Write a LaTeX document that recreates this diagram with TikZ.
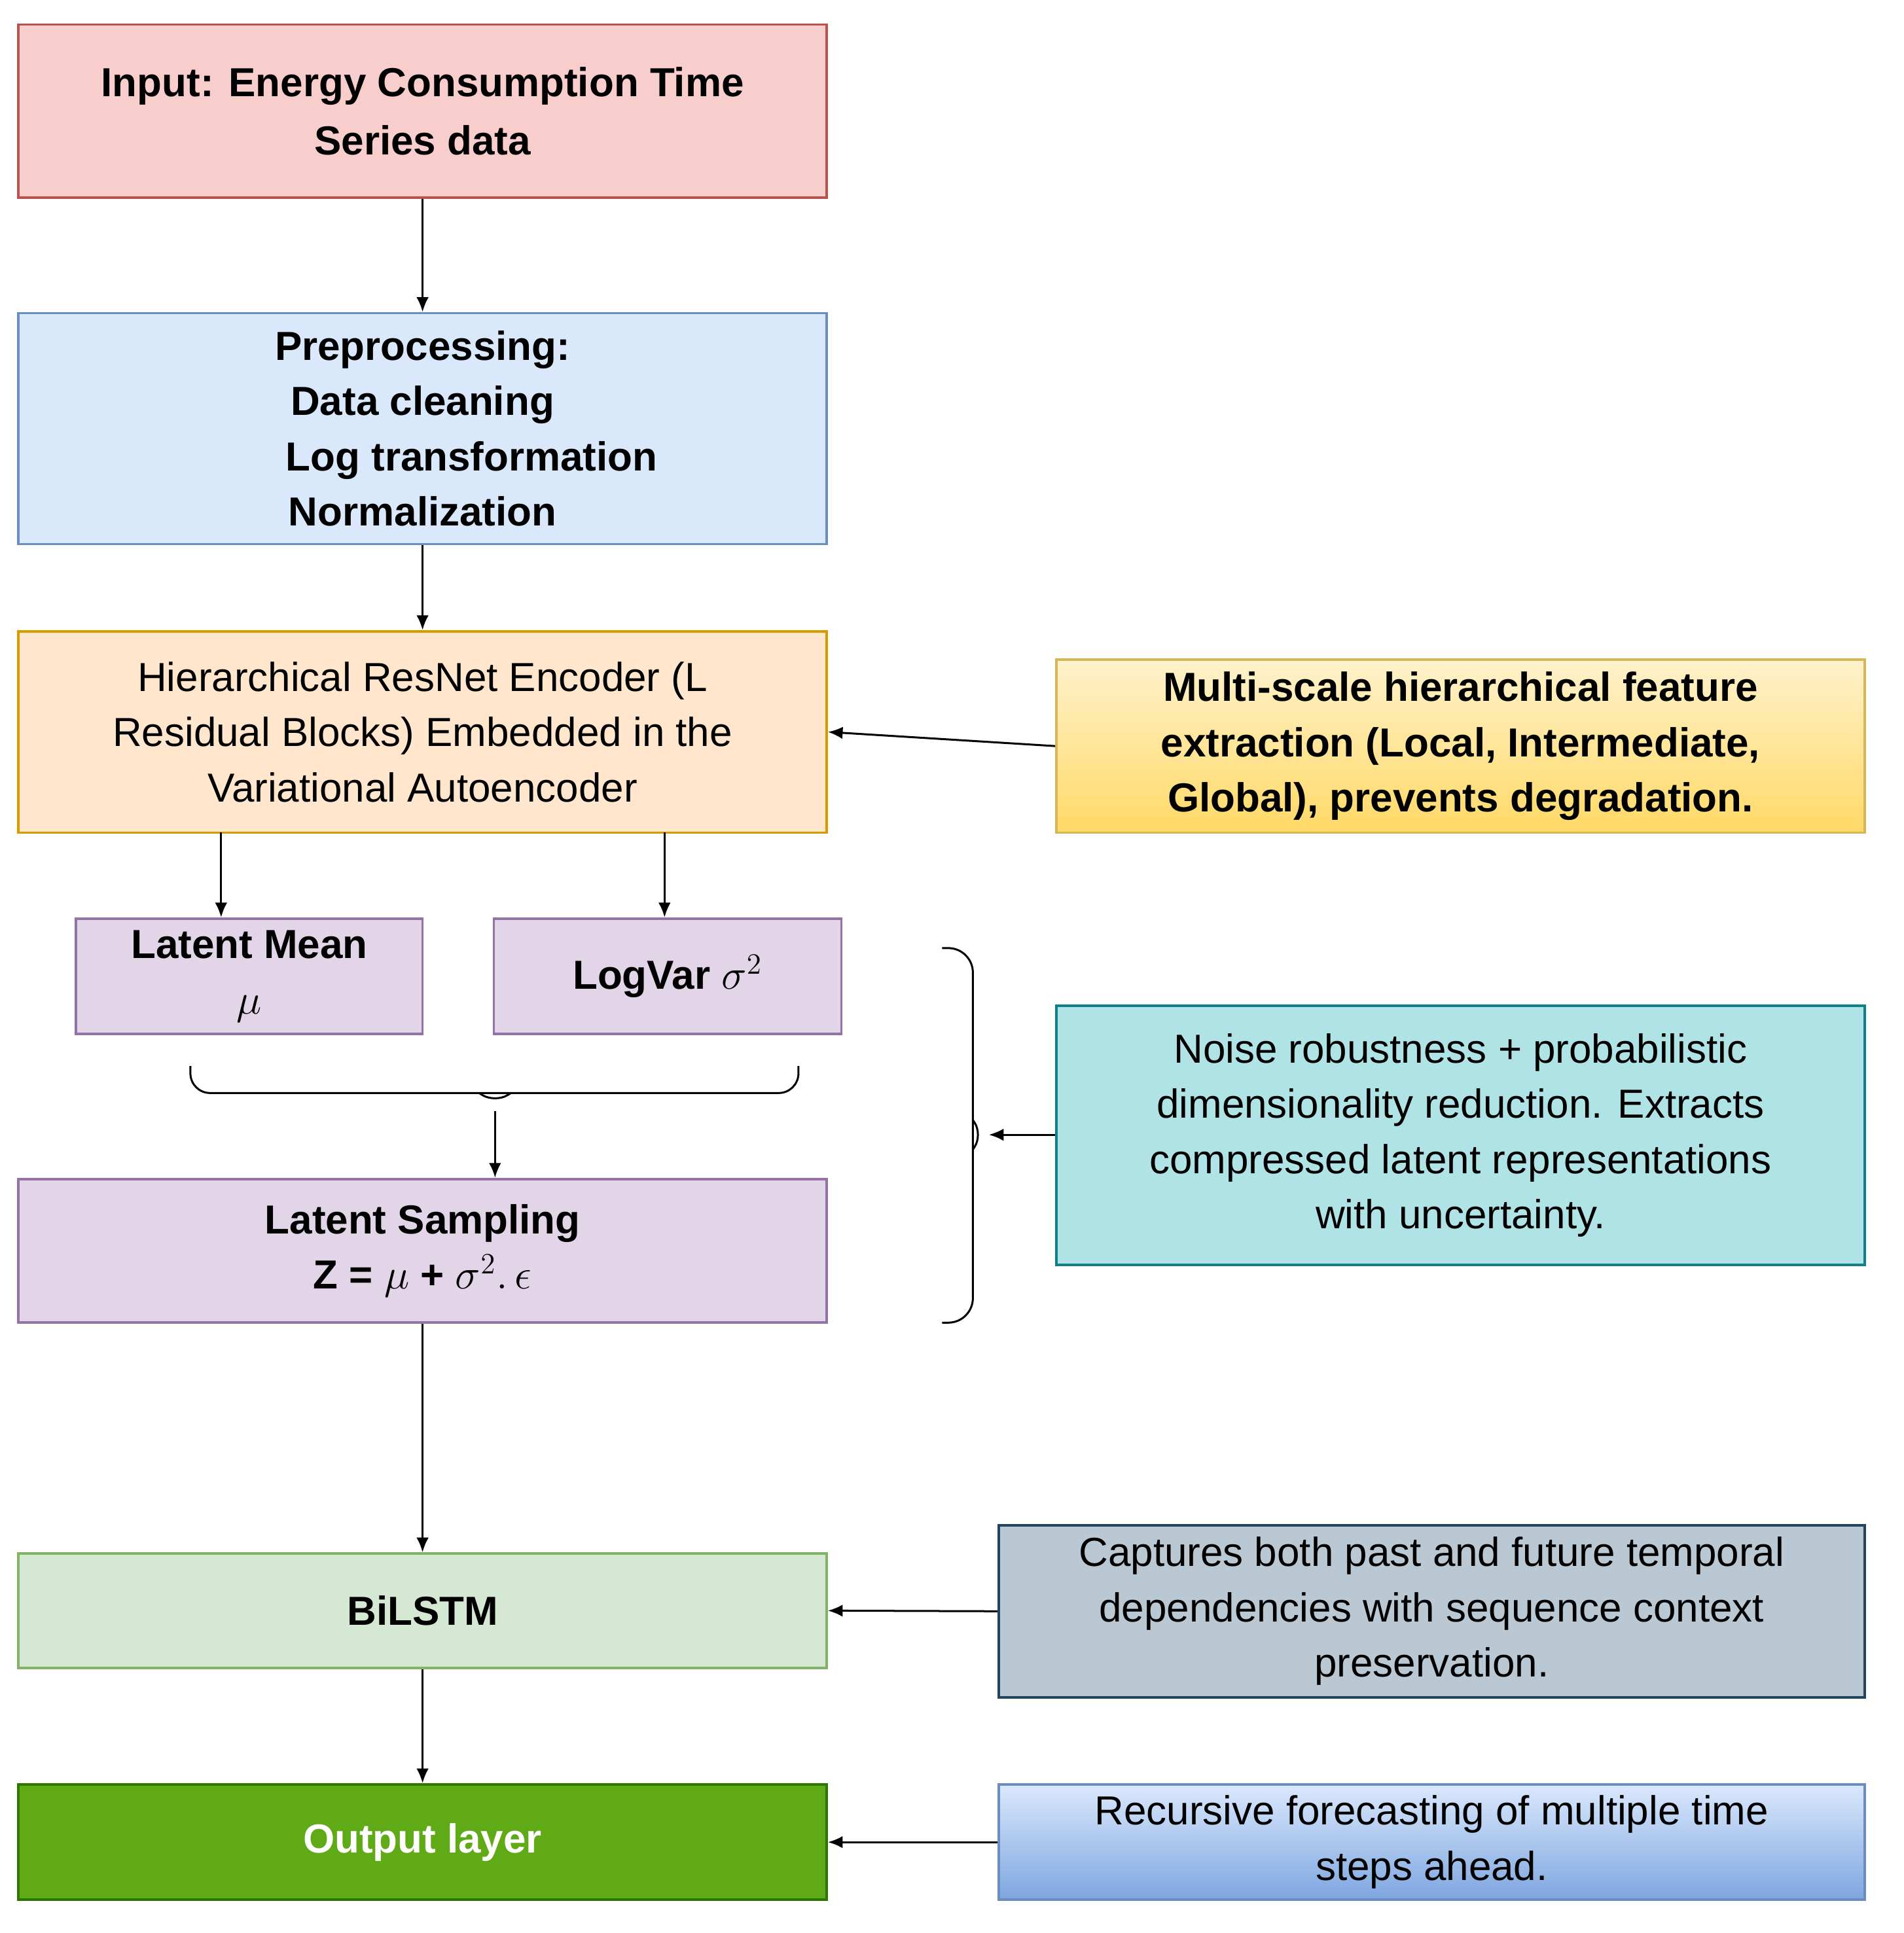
\documentclass[tikz,border=0pt]{standalone}
\usepackage{fontspec}
\setmainfont{Liberation Sans}
\usetikzlibrary{arrows.meta,shadings}
\definecolor{pinkf}{HTML}{F8CECC}\definecolor{pinkd}{HTML}{B85450}
\definecolor{bluef}{HTML}{DAE8FC}\definecolor{blued}{HTML}{6C8EBF}
\definecolor{orf}{HTML}{FFE6CC}\definecolor{ord}{HTML}{D79B00}
\definecolor{yelf}{HTML}{FFF2CC}\definecolor{yelg}{HTML}{FFD966}\definecolor{yeld}{HTML}{D6B656}
\definecolor{purf}{HTML}{E1D5E7}\definecolor{purd}{HTML}{9673A6}
\definecolor{tealf}{HTML}{B0E3E6}\definecolor{teald}{HTML}{0E8088}
\definecolor{grnf}{HTML}{D5E8D4}\definecolor{grnd}{HTML}{82B366}
\definecolor{grayf}{HTML}{BAC8D3}\definecolor{grayd}{HTML}{23445D}
\definecolor{outf}{HTML}{60A917}\definecolor{outd}{HTML}{2D7600}
\definecolor{blug}{HTML}{7EA6E0}
\begin{document}
\begin{tikzpicture}[x=0.5pt,y=-0.5pt,
  box/.style={draw, line width=1pt, align=center, inner sep=2pt,
    font=\fontsize{16.5}{22.5}\selectfont},
  arr/.style={-{Latex[length=6pt,width=5pt]}, line width=0.8pt}]
\useasboundingbox (0,0) rectangle (1550,1574);
\fill[white] (0,0) rectangle (1550,1574);
\node[box,fill=pinkf,draw=pinkd,minimum width=329pt,minimum height=70.5pt,font=\fontsize{16.5}{23.5}\selectfont\bfseries] (in) at (344,90.5) {Input: Energy Consumption Time\\Series data};
\node[box,fill=bluef,draw=blued,minimum width=329pt,minimum height=94pt,font=\fontsize{16.5}{22.5}\selectfont\bfseries] (pre) at (344,349) {Preprocessing:\\Data cleaning\\\hspace{40pt}Log transformation\\Normalization};
\node[box,fill=orf,draw=ord,minimum width=329pt,minimum height=82pt] (enc) at (344,596) {Hierarchical ResNet Encoder (L\\Residual Blocks) Embedded in the\\Variational Autoencoder};
\node[box,top color=yelf,bottom color=yelg,draw=yeld,minimum width=329pt,minimum height=70.5pt,font=\fontsize{16.5}{22.5}\selectfont\bfseries] (ms) at (1189,607.5) {Multi-scale hierarchical feature\\extraction (Local, Intermediate,\\Global), prevents degradation.};
\node[box,fill=purf,draw=purd,minimum width=141pt,minimum height=47pt,font=\fontsize{16.5}{22.5}\selectfont\bfseries] (mu) at (203,795) {Latent Mean\\$\mu$};
\node[box,fill=purf,draw=purd,minimum width=141.5pt,minimum height=47pt,font=\fontsize{16.5}{22.5}\selectfont\bfseries] (lv) at (543.5,795) {LogVar $\sigma^2$};
\node[box,fill=purf,draw=purd,minimum width=329pt,minimum height=58.5pt,font=\fontsize{16.5}{22.5}\selectfont\bfseries] (ls) at (344,1018.5) {Latent Sampling\\Z = $\mu$ + $\sigma^2.\,\epsilon$};
\node[box,fill=tealf,draw=teald,minimum width=329pt,minimum height=105.5pt] (tl) at (1189,924.5) {Noise robustness + probabilistic\\dimensionality reduction. Extracts\\compressed latent representations\\with uncertainty.};
\node[box,fill=grnf,draw=grnd,minimum width=329pt,minimum height=46.5pt,font=\fontsize{16.5}{22.5}\selectfont\bfseries] (bl) at (344,1311.5) {BiLSTM};
\node[box,fill=grayf,draw=grayd,minimum width=352.5pt,minimum height=70pt] (gr) at (1165.5,1312) {Captures both past and future temporal\\dependencies with sequence context\\preservation.};
\node[box,fill=outf,draw=outd,minimum width=329pt,minimum height=47pt,text=white,font=\fontsize{16.5}{22.5}\selectfont\bfseries] (out) at (344,1500) {Output layer};
\node[box,top color=bluef,bottom color=blug,draw=blued,minimum width=352.5pt,minimum height=47pt] (rb) at (1165.5,1500) {Recursive forecasting of multiple time\\steps ahead.};
% arrows
\draw[arr] (in) -- (pre);
\draw[arr] (pre) -- (enc);
\coordinate (e1) at (180,678); \coordinate (e2) at (541,678);
\draw[arr] (e1) -- (e1 |- mu.north);
\draw[arr] (e2) -- (e2 |- lv.north);
\draw[arr] (ms.west) -- (enc.east);
% lower brace
\coordinate (bt) at (403,905);
\draw[line width=0.8pt,rounded corners=8pt] (155,868) -- (155,890) -- (650,890) -- (650,868);
\draw[line width=0.8pt,rounded corners=6pt] (390,890) -- (403,898) -- (416,890);
\draw[arr] (bt) -- (bt |- ls.north);
% right brace
\coordinate (rt) at (805,924);
\draw[line width=0.8pt,rounded corners=10pt] (767,772) -- (792,772) -- (792,1077) -- (767,1077);
\draw[line width=0.8pt,rounded corners=6pt] (792,912) -- (800,924) -- (792,936);
\draw[arr] (tl.west |- rt) -- (rt);
\draw[arr] (ls) -- (bl);
\draw[arr] (bl) -- (out);
\draw[arr] (gr.west) -- (bl.east);
\draw[arr] (rb.west) -- (out.east);
\end{tikzpicture}
\end{document}
